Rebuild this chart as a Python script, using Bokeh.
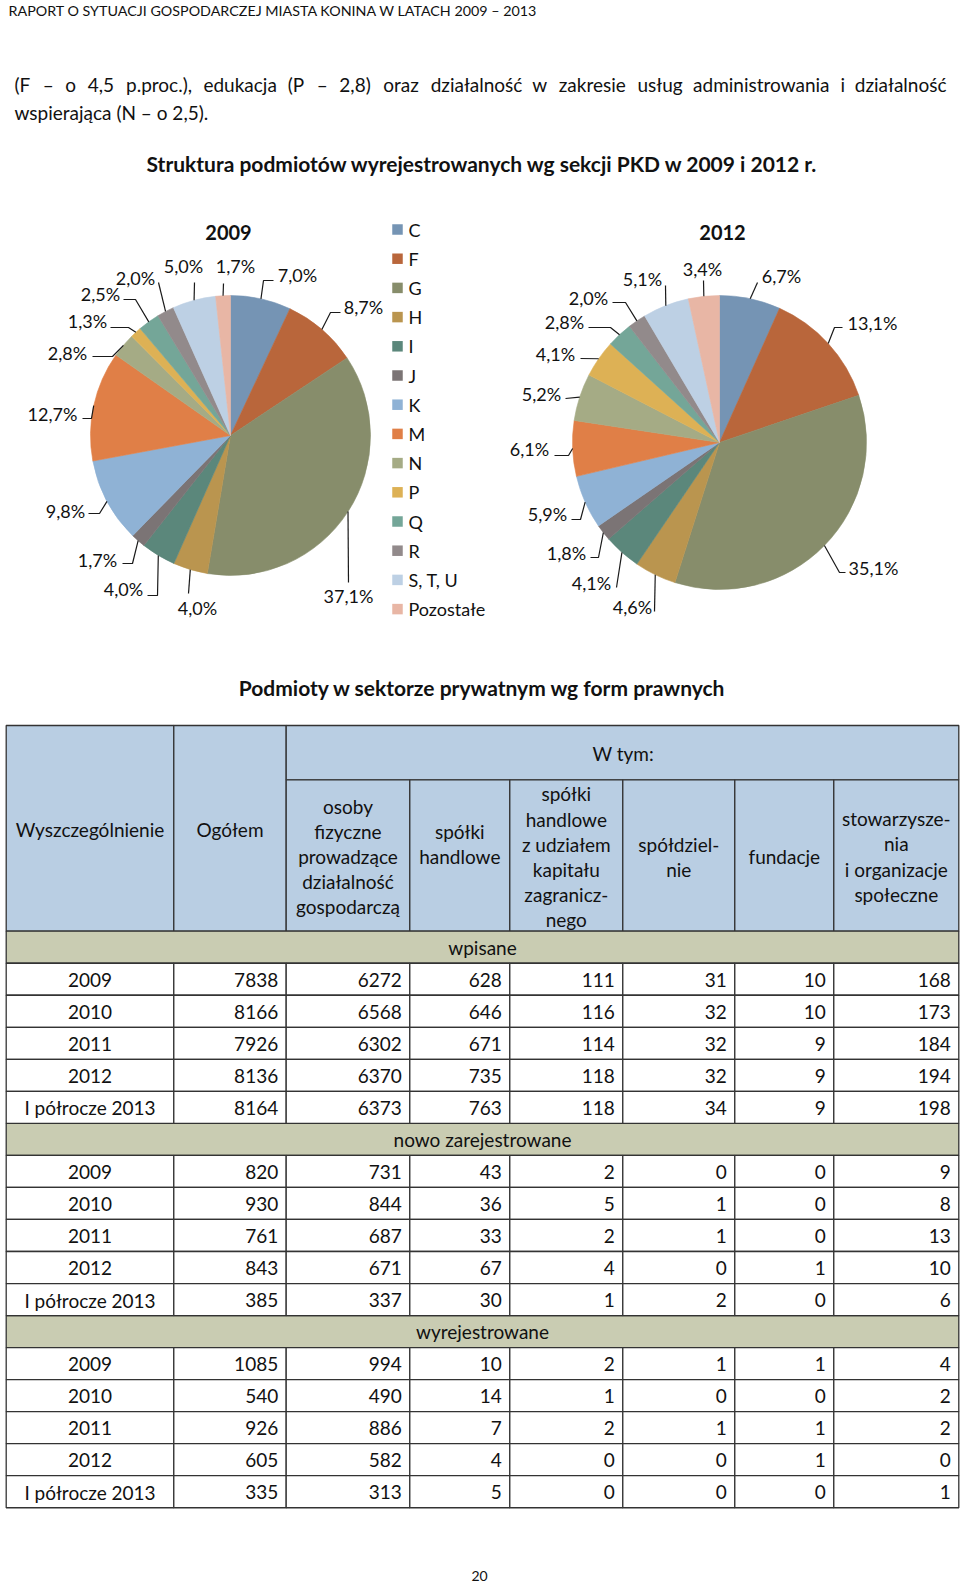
import numpy as np
from bokeh.plotting import figure
from bokeh.models import Range1d
from bokeh.core.properties import value
from bokeh.embed import file_html
from bokeh.resources import INLINE

FONT = "Lato"
INK = "#111111"

# ---------------- data ----------------
sections = ["C", "F", "G", "H", "I", "J", "K", "M", "N", "P", "Q", "R", "S, T, U", "Pozostałe"]
share_2009 = [7.0, 8.7, 37.1, 4.0, 4.0, 1.7, 9.8, 12.7, 2.8, 1.3, 2.5, 2.0, 5.0, 1.7]
share_2012 = [6.7, 13.1, 35.1, 4.6, 4.1, 1.8, 5.9, 6.1, 5.2, 4.1, 2.8, 2.0, 5.1, 3.4]
section_colors = ["#7594B4", "#B9663B", "#878D6B", "#BA954F", "#5B877B", "#7B7475",
                  "#8FB2D5", "#E07F47", "#A5AB85", "#DDB155", "#74A698", "#928A8B",
                  "#BDD0E4", "#E8B6A5"]

table_groups = ["wpisane", "nowo zarejestrowane", "wyrejestrowane"]
periods = ["2009", "2010", "2011", "2012", "I półrocze 2013"]
ogolem = [7838, 8166, 7926, 8136, 8164, 820, 930, 761, 843, 385, 1085, 540, 926, 605, 335]
osoby_fizyczne = [6272, 6568, 6302, 6370, 6373, 731, 844, 687, 671, 337, 994, 490, 886, 582, 313]
spolki_handlowe = [628, 646, 671, 735, 763, 43, 36, 33, 67, 30, 10, 14, 7, 4, 5]
spolki_zagraniczne = [111, 116, 114, 118, 118, 2, 5, 2, 4, 1, 2, 1, 2, 0, 0]
spoldzielnie = [31, 32, 32, 32, 34, 0, 1, 1, 0, 2, 1, 0, 1, 0, 0]
fundacje = [10, 10, 9, 9, 9, 0, 0, 0, 1, 0, 1, 0, 1, 1, 0]
stowarzyszenia = [168, 173, 184, 194, 198, 9, 8, 13, 10, 6, 4, 2, 2, 0, 1]

header_cols = [["Wyszczególnienie"], ["Ogółem"],
               ["osoby", "fizyczne", "prowadzące", "działalność", "gospodarczą"],
               ["spółki", "handlowe"],
               ["spółki", "handlowe", "z udziałem", "kapitału", "zagranicz-", "nego"],
               ["spółdziel-", "nie"], ["fundacje"],
               ["stowarzysze-", "nia", "i organizacje", "społeczne"]]

paragraph_line1 = "(F – o 4,5 p.proc.), edukacja (P – 2,8) oraz działalność w zakresie usług administrowania i działalność"
paragraph_line2 = "wspierająca (N – o 2,5)."

# ---------------- layout (page pixels, origin top-left) ----------------
W, H = 960, 1582
p = figure(width=W, height=H, x_range=Range1d(0, W), y_range=Range1d(-H, 0),
           output_backend="svg", toolbar_location=None, min_border=0,
           x_axis_location=None, y_axis_location=None, outline_line_color=None,
           background_fill_color="white", border_fill_color="white")
p.grid.visible = False


def txt(xs, ys, texts, size, align="left", bold=False, color=INK):
    p.text(x=list(xs), y=[-v for v in ys], text=list(texts), text_font=value(FONT),
           text_font_size=f"{size}px", text_align=align, text_baseline="middle",
           text_font_style="bold" if bold else "normal", text_color=color)


# approximate advance widths (em) of the Lato face, used to justify the paragraph line
CW = {"a": .49, "b": .55, "c": .46, "d": .55, "e": .52, "f": .32, "g": .50, "h": .55,
      "i": .24, "j": .24, "k": .50, "l": .24, "m": .83, "n": .55, "o": .55, "p": .55,
      "r": .37, "s": .42, "t": .35, "u": .55, "w": .76, "y": .50, "z": .45, "ł": .27,
      "ś": .42, "ć": .46, "ó": .55, "ą": .49, "(": .30, ")": .30, ",": .22, ".": .22,
      "–": .55, "F": .55, "P": .60, "N": .74}


def word_w(wd, size):
    return sum(CW.get(ch, .58) for ch in wd) * size


# page header and justified paragraph
txt([8], [10], ["RAPORT O SYTUACJI GOSPODARCZEJ MIASTA KONINA W LATACH 2009 – 2013"], 14.3)
PS = 19
words = paragraph_line1.split(" ")
left, right = 14, 946
widths = [word_w(wd, PS) for wd in words]
gap = (right - left - sum(widths)) / (len(words) - 1)
xpos, x = [], left
for wdt in widths:
    xpos.append(x)
    x += wdt + gap
txt(xpos[:-1], [84] * (len(words) - 1), words[:-1], PS)
txt([right], [84], [words[-1]], PS, align="right")
txt([14], [112], [paragraph_line2], PS)
txt([482], [163], ["Struktura podmiotów wyrejestrowanych wg sekcji PKD w 2009 i 2012 r."], 21, "center", True)


# ---------------- pies ----------------
def pie(cx, cy, r, shares, label_xy, leaders, title, title_x):
    s = np.array(shares, float)
    frac = s / s.sum()
    cum = np.concatenate([[0.0], np.cumsum(frac)])
    start = np.pi / 2 - 2 * np.pi * cum[:-1]
    end = np.pi / 2 - 2 * np.pi * cum[1:]
    p.wedge(x=cx, y=-cy, radius=r, start_angle=list(start), end_angle=list(end),
            direction="clock", fill_color=section_colors, line_color=section_colors,
            line_width=0.6)
    mid = 2 * np.pi * (cum[:-1] + frac / 2)
    sx = cx + r * np.sin(mid)
    sy = cy - r * np.cos(mid)
    xs, ys = [], []
    for i, pts in enumerate(leaders):
        xs.append([sx[i]] + [q[0] for q in pts])
        ys.append([-sy[i]] + [-q[1] for q in pts])
    p.multi_line(xs, ys, line_color="#1a1a1a", line_width=1.2)
    labels = [f"{v:.1f}%".replace(".", ",") for v in shares]
    txt([q[0] for q in label_xy], [q[1] for q in label_xy], labels, 18, "center")
    txt([title_x], [232], [title], 20, "center", True)


lab09 = [(297, 274), (363, 306), (348, 595), (197, 607), (123, 588), (97, 559), (65, 510),
         (52, 413), (67, 352), (87, 320), (100, 293), (135, 277), (183, 265), (235, 265)]
lead09 = [[(263, 280), (273, 280)], [(330, 312), (340, 312)], [(348, 582)], [(188, 593)],
          [(157, 595), (147, 595)], [(132, 563), (122, 563)], [(99, 513), (88, 513)],
          [(91, 418), (82, 418)], [(112, 356), (92, 356)], [(128, 327), (110, 327)],
          [(135, 299), (123, 299)], [(158, 282)], [(194, 282)], [(223, 283)]]
pie(230, 435, 140, share_2009, lab09, lead09, "2009", 228)

lab12 = [(781, 275), (872, 322), (873, 567), (632, 606), (591, 582), (566, 552), (547, 513),
         (529, 448), (541, 393), (555, 353), (564, 321), (588, 297), (642, 278), (702, 268)]
lead12 = [[(757, 282)], [(834, 327), (842, 327)], [(839, 572), (845, 572)], [(654, 611)],
          [(616, 587)], [(598, 557), (590, 557)], [(580, 519), (571, 519)],
          [(568, 455), (554, 455)], [(565, 398)], [(580, 358)], [(610, 327), (588, 327)],
          [(625, 302), (612, 302)], [(665, 285)], [(703, 280)]]
pie(719, 442, 147, share_2012, lab12, lead12, "2012", 722)

# legend
leg_y = [229 + 29.2 * i for i in range(len(sections))]
p.rect(x=[397] * len(sections), y=[-v for v in leg_y], width=10.5, height=10.5,
       fill_color=section_colors, line_color=None)
txt([408] * len(sections), leg_y, sections, 18)

# ---------------- table ----------------
txt([482], [687], ["Podmioty w sektorze prywatnym wg form prawnych"], 21, "center", True)

HEAD_FILL = "#B9CEE3"
SEC_FILL = "#C9CCB2"
LINE = "#333333"
edges = [5.7, 173.3, 285.7, 409.3, 509.3, 622.3, 734.3, 833.3, 958.3]
top, wtym_bottom, head_bottom, row_h = 725, 779.3, 930.7, 32.03

# header cells
hl = [edges[0], edges[1], edges[2]] + edges[2:8]
hr = [edges[1], edges[2], edges[8]] + edges[3:9]
ht = [top, top, top] + [wtym_bottom] * 6
hb = [head_bottom, head_bottom, wtym_bottom] + [head_bottom] * 6
p.quad(left=hl, right=hr, top=[-v for v in ht], bottom=[-v for v in hb],
       fill_color=HEAD_FILL, line_color=LINE, line_width=1.3)
txt([622.7], [753], ["W tym:"], 19, "center")
col_centers = [(edges[i] + edges[i + 1]) / 2 for i in range(8)]
head_mid = [829, 829, 856, 843.5, 856.3, 856.5, 856, 856]
LH = 25.2
for c, lines in enumerate(header_cols):
    n = len(lines)
    ys = [head_mid[c] + (k - (n - 1) / 2) * LH for k in range(n)]
    txt([col_centers[c]] * n, ys, lines, 19, "center")

# body rows
columns = [ogolem, osoby_fizyczne, spolki_handlowe, spolki_zagraniczne,
           spoldzielnie, fundacje, stowarzyszenia]
sec_rows = []
data_rows = []
for g in range(len(table_groups)):
    sec_rows.append(g * 6)
    data_rows.extend(g * 6 + 1 + k for k in range(len(periods)))

row_top = lambda k: head_bottom + k * row_h
p.quad(left=[edges[0]] * 3, right=[edges[-1]] * 3,
       top=[-row_top(k) for k in sec_rows], bottom=[-row_top(k + 1) for k in sec_rows],
       fill_color=SEC_FILL, line_color=LINE, line_width=1.3)
txt([482] * 3, [row_top(k) + row_h / 2 for k in sec_rows], table_groups, 19, "center")

cl, cr, ct, cb = [], [], [], []
for k in data_rows:
    for c in range(8):
        cl.append(edges[c]); cr.append(edges[c + 1])
        ct.append(-row_top(k)); cb.append(-row_top(k + 1))
p.quad(left=cl, right=cr, top=ct, bottom=cb, fill_color="white", line_color=LINE, line_width=1.3)

row_mid = [row_top(k) + row_h / 2 + 0.5 for k in data_rows]
txt([col_centers[0]] * len(row_mid), row_mid, periods * len(table_groups), 19, "center")
for c, col in enumerate(columns):
    txt([edges[c + 2] - 8] * len(col), row_mid, [str(v) for v in col], 19, "right")

# page number
txt([479], [1575], ["20"], 14, "center")

with open("out.html", "w", encoding="utf-8") as f:
    f.write(file_html(p, INLINE))
